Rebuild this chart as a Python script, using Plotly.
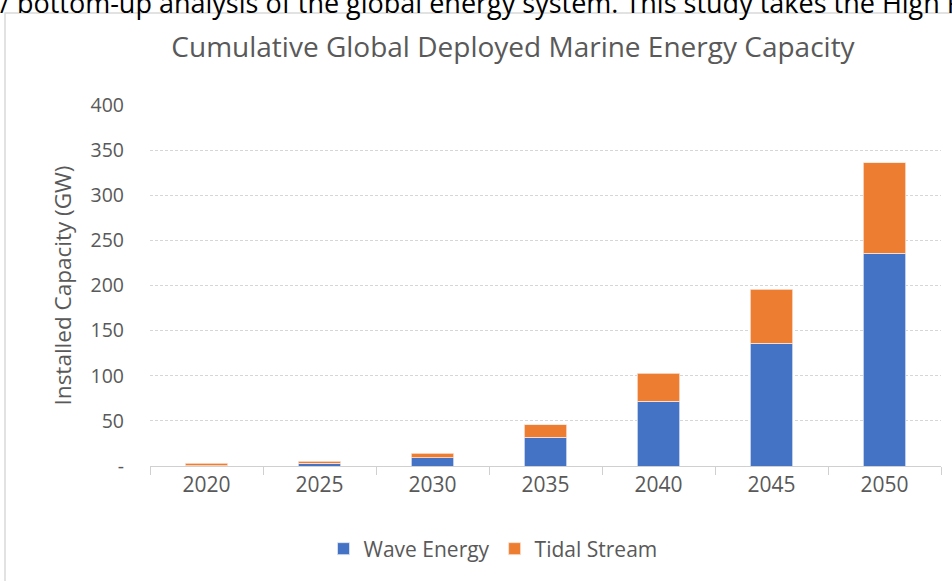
import plotly.graph_objects as go

years = ["2020", "2025", "2030", "2035", "2040", "2045", "2050"]
wave_energy = [0.4, 3, 9, 32, 72, 136, 236]
tidal_stream = [2.6, 2.2, 5, 13.5, 31, 60, 100]
y_tickvals = [0, 50, 100, 150, 200, 250, 300, 350, 400]
y_ticktext = ["-", "50", "100", "150", "200", "250", "300", "350", "400"]

W, H = 952, 581
L, R, T, B = 150, 11, 105, 115
pw, ph = W - L - R, H - T - B

def px_x(p):
    return (p - L) / pw

def px_y(p):
    return (H - B - p) / ph

font_fam = "Open Sans, Noto Sans, sans-serif"
grey = "#595959"

fig = go.Figure()
fig.add_trace(go.Bar(x=years, y=wave_energy, name="Wave Energy",
                     marker=dict(color="#4472C4", line=dict(width=0.8, color="#dfe6f5")), width=0.38))
fig.add_trace(go.Bar(x=years, y=tidal_stream, name="Tidal Stream",
                     marker=dict(color="#ED7D31", line=dict(width=0.8, color="#fbe2d3")), width=0.38))

fig.update_layout(
    width=W, height=H,
    margin=dict(l=L, r=R, t=T, b=B, autoexpand=False),
    barmode="stack",
    plot_bgcolor="white", paper_bgcolor="white",
    font=dict(family=font_fam, color=grey, size=19),
    title=dict(text="Cumulative Global Deployed Marine Energy Capacity",
               x=px_x(513), xref="paper", xanchor="center",
               y=1 - 47 / H, yanchor="middle",
               font=dict(size=28, color=grey, family=font_fam)),
    showlegend=True,
    legend=dict(orientation="h", x=px_x(493), xanchor="center", y=px_y(549), yanchor="middle",
                font=dict(size=21, color=grey), itemwidth=30, traceorder="normal"),
)
fig.update_xaxes(
    type="category", showgrid=False, showline=True, linecolor="#d0d0d0", linewidth=1,
    ticks="outside", tickson="boundaries", ticklen=8, tickcolor="#d0d0d0",
    tickfont=dict(size=21, color=grey), fixedrange=True,
)
fig.update_yaxes(
    range=[0, 400], tickvals=y_tickvals, ticktext=y_ticktext,
    showgrid=True, gridcolor="#d6d6d6", griddash="3px,2px", gridwidth=1,
    zeroline=False, showline=False, ticks="", ticklabelstandoff=25,
    tickfont=dict(size=19.5, color=grey),
    title=dict(text="Installed Capacity (GW)", font=dict(size=22.5, color=grey), standoff=12),
)

# outer chart frame
fig.add_shape(type="rect", xref="paper", yref="paper",
              x0=px_x(5), x1=px_x(960), y0=px_y(600), y1=px_y(13),
              line=dict(color="#d9d9d9", width=1.5), fillcolor="rgba(0,0,0,0)", layer="below")

# cropped document text at top
fig.add_annotation(text="/ bottom-up analysis of the global energy system. This study takes the High R",
                   xref="paper", yref="paper", x=px_x(-2), xanchor="left",
                   y=px_y(-18), yanchor="top", showarrow=False,
                   font=dict(size=27, color="#000000", family=font_fam))

fig.write_html("out.html")
